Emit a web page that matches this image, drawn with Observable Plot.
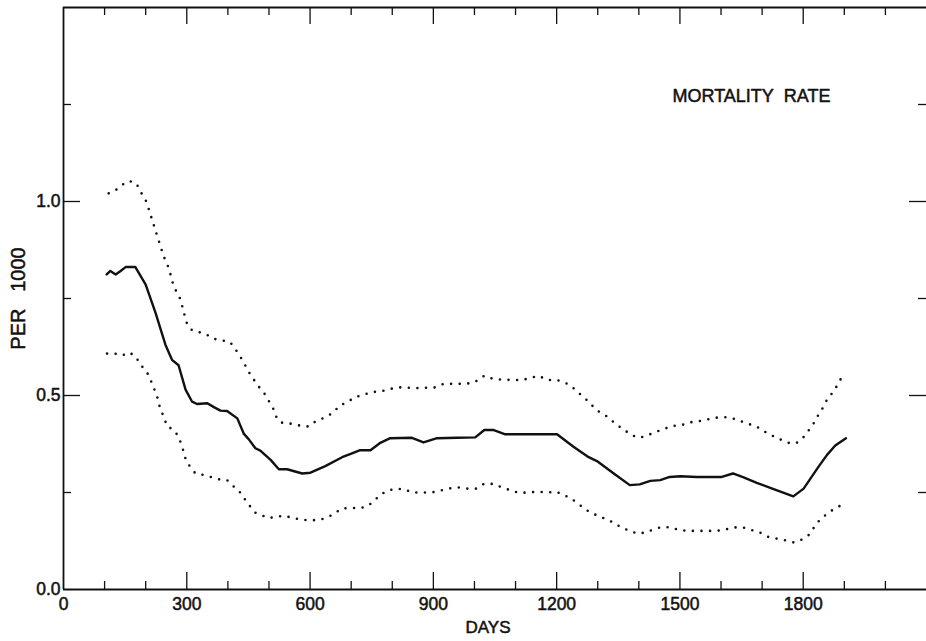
<!DOCTYPE html>
<html>
<head>
<meta charset="utf-8">
<script src="https://cdn.jsdelivr.net/npm/d3@7"></script>
<script src="https://cdn.jsdelivr.net/npm/@observablehq/plot@0.6"></script>
<style>
  html, body { margin: 0; padding: 0; background: #fff; }
  #chart { width: 926px; height: 641px; }
</style>
</head>
<body>
<div id="chart"></div>
<script>
// ---- data ----
const xDomain = [0, 2100];
const yDomain = [0, 1.5];
const xTickLabels = [0, 300, 600, 900, 1200, 1500, 1800];
const yTickLabels = [0, 0.5, 1.0];
const xMajorTicks = [300, 600, 900, 1200, 1500, 1800];
const xMinorTicks = [100, 200, 400, 500, 700, 800, 1000, 1100, 1300, 1400, 1600, 1700, 1900, 2000];
const yMajorTicks = [0.5, 1.0];
const yMinorTicks = [0.25, 0.75, 1.25];

const titleText = "MORTALITY\u00a0\u00a0RATE";
const xLabel = "DAYS";
const yLabel = "PER\u00a0\u00a0\u00a01000";

const rateDays = [105,114,127,139,151,175,200,224,248,264,280,297,313,325,350,366,382,398,423,439,451,467,479,504,524,544,581,601,637,678,702,722,747,771,795,848,876,909,958,1002,1024,1047,1075,1152,1201,1241,1278,1298,1339,1378,1402,1428,1452,1475,1501,1541,1602,1629,1655,1687,1728,1776,1801,1837,1858,1878,1904];
const rateValues = [0.812,0.821,0.812,0.821,0.831,0.831,0.786,0.713,0.631,0.592,0.578,0.515,0.484,0.478,0.480,0.470,0.461,0.460,0.441,0.401,0.387,0.364,0.358,0.334,0.310,0.310,0.299,0.301,0.318,0.341,0.351,0.359,0.359,0.378,0.390,0.391,0.379,0.390,0.391,0.392,0.411,0.411,0.400,0.400,0.400,0.368,0.341,0.331,0.299,0.269,0.271,0.280,0.282,0.290,0.292,0.290,0.290,0.299,0.289,0.275,0.259,0.240,0.260,0.316,0.347,0.371,0.390];

const upperDays = [110,128,143,159,177,191,202,212,244,256,268,285,293,301,313,345,366,386,405,418,435,455,475,491,512,520,532,556,577,597,613,637,654,674,686,710,730,751,771,795,816,860,905,925,970,994,1010,1024,1047,1091,1116,1136,1156,1177,1201,1221,1237,1250,1264,1278,1290,1302,1321,1337,1351,1365,1382,1402,1422,1444,1464,1485,1505,1525,1548,1570,1590,1613,1635,1655,1675,1696,1712,1730,1748,1767,1783,1799,1809,1820,1828,1837,1846,1854,1862,1874,1882,1898];
const upperValues = [1.021,1.030,1.043,1.053,1.047,1.019,0.999,0.965,0.858,0.829,0.782,0.747,0.713,0.683,0.668,0.659,0.646,0.642,0.638,0.620,0.592,0.553,0.523,0.502,0.463,0.439,0.430,0.427,0.422,0.420,0.433,0.444,0.454,0.476,0.480,0.496,0.502,0.509,0.510,0.517,0.521,0.519,0.521,0.530,0.530,0.532,0.540,0.551,0.542,0.540,0.540,0.545,0.551,0.540,0.540,0.533,0.523,0.510,0.497,0.484,0.470,0.459,0.447,0.433,0.421,0.411,0.398,0.391,0.398,0.407,0.415,0.422,0.424,0.431,0.434,0.439,0.443,0.444,0.439,0.431,0.424,0.415,0.403,0.394,0.385,0.377,0.377,0.390,0.405,0.418,0.433,0.450,0.465,0.482,0.496,0.510,0.525,0.555];

const lowerDays = [106,125,143,159,173,183,191,204,212,220,228,236,244,252,260,272,281,289,295,305,321,341,358,378,398,410,426,443,455,467,499,516,536,560,581,601,625,645,662,678,702,724,743,757,770,786,806,828,848,870,895,915,936,960,982,1004,1024,1047,1067,1087,1108,1132,1154,1177,1199,1219,1237,1254,1270,1286,1302,1321,1339,1357,1378,1397,1417,1436,1456,1478,1499,1523,1544,1567,1590,1612,1632,1653,1675,1696,1716,1736,1756,1778,1797,1813,1823,1833,1843,1856,1874,1892];
const lowerValues = [0.608,0.608,0.603,0.611,0.603,0.588,0.575,0.558,0.540,0.519,0.497,0.463,0.446,0.420,0.416,0.407,0.390,0.368,0.342,0.321,0.299,0.295,0.290,0.284,0.282,0.269,0.256,0.230,0.213,0.198,0.184,0.187,0.190,0.184,0.180,0.178,0.180,0.187,0.198,0.209,0.210,0.210,0.217,0.230,0.243,0.254,0.259,0.259,0.250,0.250,0.250,0.254,0.260,0.263,0.260,0.260,0.273,0.272,0.263,0.256,0.249,0.250,0.252,0.250,0.252,0.243,0.233,0.220,0.206,0.197,0.189,0.181,0.172,0.160,0.151,0.144,0.147,0.155,0.161,0.160,0.153,0.151,0.151,0.151,0.151,0.155,0.160,0.160,0.153,0.146,0.135,0.131,0.127,0.121,0.129,0.140,0.155,0.170,0.183,0.193,0.207,0.217];

// ---- tables built from the arrays ----
const toTable = (days, vals) => days.map((d, i) => ({day: d, rate: vals[i]}));
const rate = toTable(rateDays, rateValues);
const upper = toTable(upperDays, upperValues);
const lower = toTable(lowerDays, lowerValues);

// ---- layout ----
const W = 926, H = 641;
const mL = 63, mR = 0, mT = 7, mB = 52;
const innerW = W - mL - mR;
const innerH = H - mT - mB;
const majorLen = 17, minorLen = 8;
const font = "'Liberation Sans', Arial, Helvetica, sans-serif";
const ink = "#111";
const tickFont = 17.5;
const textInk = {fill: ink, stroke: ink, strokeWidth: 0.5};

const dotted = {x: "day", y: "rate", stroke: ink, strokeWidth: 2.6, strokeDasharray: "0 8.6", strokeLinecap: "round"};

const chart = Plot.plot({
  width: W,
  height: H,
  marginLeft: mL,
  marginRight: mR,
  marginTop: mT,
  marginBottom: mB,
  style: {background: "#fff", color: ink, fontFamily: font, fontSize: "17px"},
  x: {domain: xDomain, axis: null},
  y: {domain: yDomain, axis: null},
  marks: [
    // frame (left, bottom, top)
    Plot.ruleX([xDomain[0]], {stroke: ink, strokeWidth: 1.8}),
    Plot.ruleY(yDomain, {stroke: ink, strokeWidth: 1.8}),
    // inward ticks: bottom and top
    Plot.tickX(xMajorTicks, {x: d => d, stroke: ink, strokeWidth: 1.3, insetTop: innerH - majorLen}),
    Plot.tickX(xMinorTicks, {x: d => d, stroke: ink, strokeWidth: 1.3, insetTop: innerH - minorLen}),
    Plot.tickX(xMajorTicks, {x: d => d, stroke: ink, strokeWidth: 1.3, insetBottom: innerH - majorLen}),
    Plot.tickX(xMinorTicks, {x: d => d, stroke: ink, strokeWidth: 1.3, insetBottom: innerH - minorLen}),
    // inward ticks: left and right
    Plot.tickY(yMajorTicks, {y: d => d, stroke: ink, strokeWidth: 1.3, insetRight: innerW - majorLen}),
    Plot.tickY(yMinorTicks, {y: d => d, stroke: ink, strokeWidth: 1.3, insetRight: innerW - minorLen}),
    Plot.tickY(yMajorTicks, {y: d => d, stroke: ink, strokeWidth: 1.3, insetLeft: innerW - majorLen}),
    Plot.tickY(yMinorTicks, {y: d => d, stroke: ink, strokeWidth: 1.3, insetLeft: innerW - minorLen}),
    // tick labels
    Plot.text(xTickLabels, {x: d => d, text: d => d3.format("d")(d), frameAnchor: "bottom", lineAnchor: "top", dy: 8, fontSize: tickFont, ...textInk}),
    Plot.text(yTickLabels, {y: d => d, text: d => d3.format(".1f")(d), frameAnchor: "left", textAnchor: "end", dx: -3, fontSize: tickFont, ...textInk}),
    // confidence band limits (dotted) and rate (solid)
    Plot.line(upper, dotted),
    Plot.line(lower, dotted),
    Plot.line(rate, {x: "day", y: "rate", stroke: ink, strokeWidth: 2.4, strokeLinejoin: "round"}),
    // annotation and axis titles
    Plot.text([titleText], {text: d => d, frameAnchor: "top-right", dx: -175, dy: 82, fontSize: 18, textAnchor: "middle", ...textInk}),
    Plot.text([xLabel], {text: d => d, frameAnchor: "bottom", dx: -7, dy: 43, fontSize: 17, textAnchor: "middle", ...textInk}),
    Plot.text([yLabel], {text: d => d, frameAnchor: "left", dx: -45, rotate: -90, fontSize: 20, textAnchor: "middle", ...textInk})
  ]
});
document.getElementById("chart").appendChild(chart);
</script>
</body>
</html>
